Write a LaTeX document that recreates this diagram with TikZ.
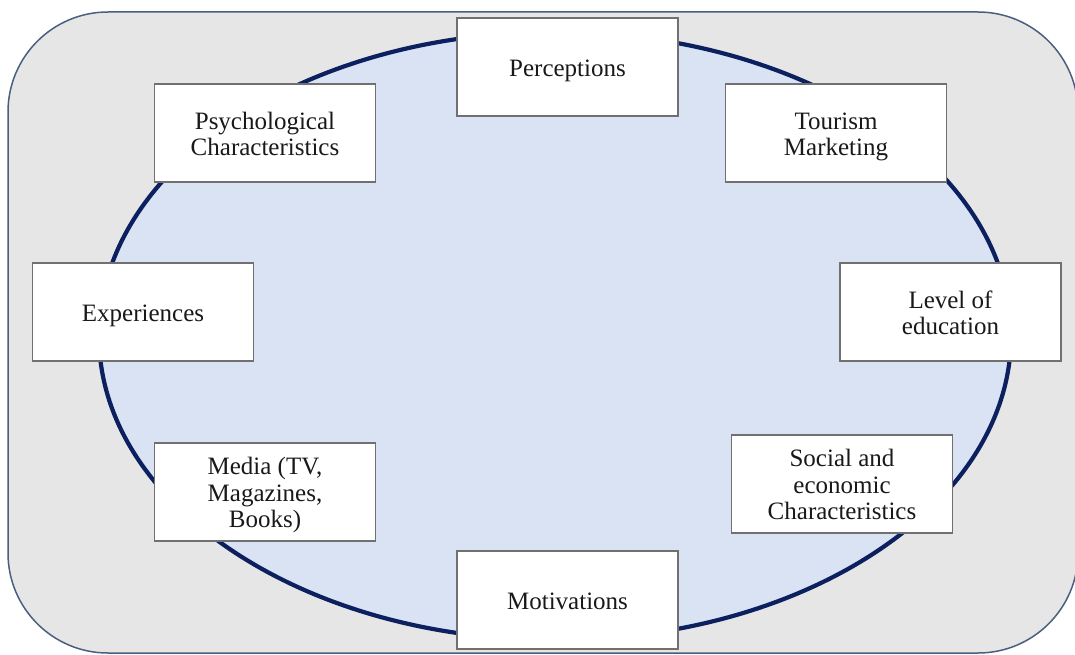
\documentclass[tikz,border=0pt]{standalone}
\usepackage{fontspec}
\setmainfont{Liberation Serif}
\definecolor{outerfill}{HTML}{E7E6E6}
\definecolor{outerline}{HTML}{4A5F80}
\definecolor{ellfill}{HTML}{DAE3F3}
\definecolor{ellline}{HTML}{0C2060}
\definecolor{boxline}{HTML}{707070}
\newcommand\factortext[1]{\raisebox{-4pt}[\height][\depth]{\begin{tabular}{@{}c@{}}#1\end{tabular}}}
\begin{document}
\begin{tikzpicture}[x=1pt,y=-1pt,
  factor/.style={draw=boxline,line width=1.3pt,fill=white,minimum width=221pt,minimum height=98pt,
    inner sep=0pt,font=\fontsize{25}{26.5}\selectfont,text=black!90}]
\useasboundingbox (0,0) rectangle (1075,655);
\begin{scope}
\clip (0,0) rectangle (1075,655);
\draw[fill=outerfill,draw=outerline,line width=1.5pt,rounded corners=100pt] (8,12) rectangle (1078,653);
\end{scope}
\draw[fill=ellfill,draw=ellline,line width=4.2pt] (555,336) ellipse [x radius=456, y radius=304];
\node[factor] (perc) at (567.5,67) {\factortext{Perceptions}};
\node[factor] (psych) at (265,133) {\factortext{Psychological\\Characteristics}};
\node[factor] (tour) at (836,133) {\factortext{Tourism\\Marketing}};
\node[factor] (exp) at (143,312) {\factortext{Experiences}};
\node[factor] (edu) at (950.5,312) {\factortext{Level of\\education}};
\node[factor] (media) at (265,492) {\factortext{Media (TV,\\Magazines,\\Books)}};
\node[factor] (soc) at (842,484) {\factortext{Social and\\economic\\Characteristics}};
\node[factor] (mot) at (567.5,600) {\factortext{Motivations}};
\end{tikzpicture}
\end{document}
